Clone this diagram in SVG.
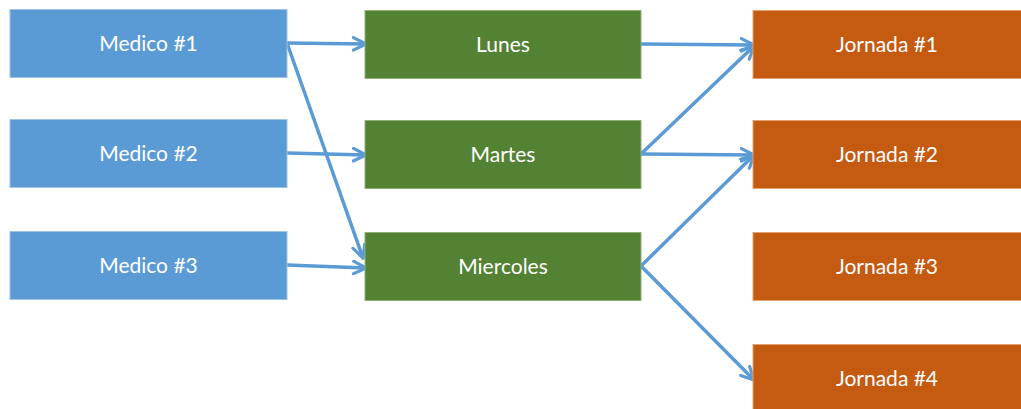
<svg xmlns="http://www.w3.org/2000/svg" width="1021" height="409" viewBox="0 0 1021 409">
<defs>
<style>
.b{fill:#5b9bd5;stroke:#9ec3e6;stroke-width:1}
.g{fill:#548235;stroke:#8fb07a;stroke-width:1}
.o{fill:#c55a11;stroke:#e0a27a;stroke-width:1}
.t{font-family:Lato,"Open Sans",sans-serif;font-size:21px;fill:#ffffff;text-anchor:middle;dominant-baseline:central}
.c{stroke:#5b9bd5;stroke-width:3.5;fill:none;stroke-linecap:round;marker-end:url(#ah)}
</style>
<marker id="ah" viewBox="0 0 10 10" refX="9" refY="5" markerWidth="4.5" markerHeight="4.5" orient="auto" markerUnits="strokeWidth">
<path d="M1,1 L9,5 L1,9" fill="none" stroke="#5b9bd5" stroke-width="2" stroke-linecap="round" stroke-linejoin="round"/>
</marker>
</defs>
<rect width="1021" height="409" fill="#ffffff"/>
<g id="connectors">
<path class="c" d="M287,43 L366,44"/>
<path class="c" d="M287,43 L363,258"/>
<path class="c" d="M287,153 L366,155"/>
<path class="c" d="M287,265 L366,268"/>
<path class="c" d="M641,44 L754,45"/>
<path class="c" d="M641,154 L754,46"/>
<path class="c" d="M641,154 L754,155"/>
<path class="c" d="M641,266 L754,155"/>
<path class="c" d="M641,266 L754,380"/>
</g>
<g id="medico1"><rect class="b" x="10" y="9.5" width="277" height="68"/><text class="t" x="148.5" y="42">Medico #1</text></g>
<g id="medico2"><rect class="b" x="10" y="119.5" width="277" height="68"/><text class="t" x="148.5" y="152">Medico #2</text></g>
<g id="medico3"><rect class="b" x="10" y="231.5" width="277" height="68"/><text class="t" x="148.5" y="264">Medico #3</text></g>
<g id="lunes"><rect class="g" x="365" y="10.5" width="276" height="68"/><text class="t" x="503" y="43">Lunes</text></g>
<g id="martes"><rect class="g" x="365" y="120.5" width="276" height="68"/><text class="t" x="503" y="153">Martes</text></g>
<g id="miercoles"><rect class="g" x="365" y="232.5" width="276" height="68"/><text class="t" x="503" y="265">Miercoles</text></g>
<g id="jornada1"><rect class="o" x="753" y="10.5" width="276" height="68"/><text class="t" x="887" y="43">Jornada #1</text></g>
<g id="jornada2"><rect class="o" x="753" y="120.5" width="276" height="68"/><text class="t" x="887" y="153">Jornada #2</text></g>
<g id="jornada3"><rect class="o" x="753" y="232.5" width="276" height="68"/><text class="t" x="887" y="265">Jornada #3</text></g>
<g id="jornada4"><rect class="o" x="753" y="344.5" width="276" height="68"/><text class="t" x="887" y="377">Jornada #4</text></g>
</svg>
